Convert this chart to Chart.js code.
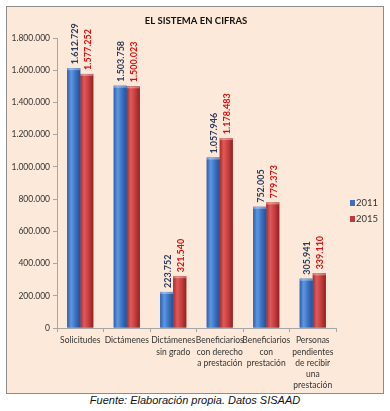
<!DOCTYPE html>
<html>
<head>
<meta charset="utf-8">
<script src="https://cdn.jsdelivr.net/npm/chart.js@4/dist/chart.umd.min.js"></script>
<style>
  html, body { margin: 0; padding: 0; background: #fff; }
  #frame {
    position: absolute; left: 6px; top: 6px;
    width: 376px; height: 386px;
    background: #fde9d9; border: 1px solid #8c8c8c;
  }
  #frame canvas { display: block; }
  #fuente {
    position: absolute; left: 0; top: 394px; width: 390px;
    text-align: center; font: italic 11px "Liberation Sans", Arial, sans-serif;
    color: #111;
  }
</style>
</head>
<body>
<div id="frame"><canvas id="c" width="376" height="386"></canvas></div>
<div id="fuente">Fuente: Elaboración propia. Datos SISAAD</div>
<script>
// datos
var titulo = "EL SISTEMA EN CIFRAS";
var categorias = [
  ["Solicitudes"],
  ["Dictámenes"],
  ["Dictámenes", "sin grado"],
  ["Beneficiarios", "con derecho", "a prestación"],
  ["Beneficiarios", "con", "prestación"],
  ["Personas", "pendientes", "de recibir", "una", "prestación"]
];
var anios = ["2011", "2015"];
var valores2011 = [1612729, 1503758, 223752, 1057946, 752005, 305941];
var valores2015 = [1577252, 1500023, 321540, 1178483, 779373, 339110];
var ticksY = [0, 200000, 400000, 600000, 800000, 1000000, 1200000, 1400000, 1600000, 1800000];

var FONT = "Lato, 'Open Sans', sans-serif";

function miles(v) {
  return String(v).replace(/\B(?=(\d{3})+(?!\d))/g, ".");
}

var estilos = [
  { stops: ["#2d5fae", "#5d98df", "#3a70c2", "#274f92"], label: "#2a3c5e", swatch: "#3a6fc0" },
  { stops: ["#a92c2c", "#df5a58", "#c53d3c", "#8f2222"], label: "#e01010", swatch: "#c0393b" }
];

// barras con degradado, rótulos girados, título y leyenda
var barras3d = {
  id: "barras3d",
  afterDatasetDraw: function (chart, args) {
    var ctx = chart.ctx;
    var est = estilos[args.index];
    args.meta.data.forEach(function (el) {
      var x0 = el.x - el.width / 2, x1 = el.x + el.width / 2;
      var g = ctx.createLinearGradient(x0, 0, x1, 0);
      g.addColorStop(0, est.stops[0]);
      g.addColorStop(0.3, est.stops[1]);
      g.addColorStop(0.65, est.stops[2]);
      g.addColorStop(1, est.stops[3]);
      ctx.save();
      ctx.fillStyle = g;
      ctx.fillRect(x0, el.y, el.width, el.base - el.y);
      ctx.fillStyle = "rgba(255,255,255,0.35)";
      ctx.fillRect(x0, el.y, el.width, 2);
      ctx.restore();
    });
  },
  afterDatasetsDraw: function (chart) {
    var ctx = chart.ctx;
    chart.data.datasets.forEach(function (ds, i) {
      var meta = chart.getDatasetMeta(i);
      meta.data.forEach(function (el, j) {
        ctx.save();
        ctx.translate(el.x + 1, el.y - 4);
        ctx.rotate(-Math.PI / 2);
        ctx.font = "bold 9px " + FONT;
        ctx.fillStyle = estilos[i].label;
        ctx.textAlign = "left";
        ctx.textBaseline = "middle";
        ctx.fillText(miles(ds.data[j]), 0, 0);
        ctx.restore();
      });
    });
  },
  afterDraw: function (chart) {
    var ctx = chart.ctx;
    ctx.save();
    ctx.font = "bold 9.5px " + FONT;
    ctx.fillStyle = "#111";
    ctx.textAlign = "center";
    ctx.textBaseline = "middle";
    ctx.fillText(titulo, chart.width / 2 + 1, 14);
    ctx.restore();
    chart.data.datasets.forEach(function (ds, i) {
      var y = 196 + i * 16;
      ctx.save();
      ctx.fillStyle = estilos[i].swatch;
      ctx.fillRect(343, y - 3, 5, 6);
      ctx.font = "9.5px " + FONT;
      ctx.fillStyle = "#333";
      ctx.textBaseline = "middle";
      ctx.fillText(ds.label, 349, y);
      ctx.restore();
    });
  }
};

new Chart(document.getElementById("c"), {
  type: "bar",
  data: {
    labels: categorias,
    datasets: [
      { label: anios[0], data: valores2011, backgroundColor: estilos[0].swatch },
      { label: anios[1], data: valores2015, backgroundColor: estilos[1].swatch }
    ]
  },
  options: {
    responsive: false,
    animation: false,
    events: [],
    layout: { padding: { left: 0, right: 47, top: 31, bottom: 0 } },
    datasets: { bar: { categoryPercentage: 0.56, barPercentage: 1 } },
    plugins: {
      legend: { display: false },
      tooltip: { enabled: false },
      title: { display: false }
    },
    scales: {
      x: {
        grid: { drawOnChartArea: false, offset: true, tickLength: 4, color: "#a6a6a6" },
        border: { color: "#a6a6a6" },
        ticks: {
          color: "#333", autoSkip: false, maxRotation: 0, minRotation: 0,
          font: { family: FONT, size: 8.5, lineHeight: 1.32 }, padding: 3
        },
        afterFit: function (s) { s.height = 65; }
      },
      y: {
        min: 0,
        max: ticksY[ticksY.length - 1],
        afterBuildTicks: function (s) {
          s.ticks = ticksY.map(function (v) { return { value: v }; });
        },
        grid: { drawOnChartArea: false, tickLength: 4, color: "#a6a6a6" },
        border: { color: "#a6a6a6" },
        ticks: {
          color: "#333", padding: 3,
          font: { family: FONT, size: 8.5 },
          callback: function (v) { return miles(v); }
        },
        afterFit: function (s) { s.width = 50; }
      }
    }
  },
  plugins: [barras3d]
});
</script>
</body>
</html>
